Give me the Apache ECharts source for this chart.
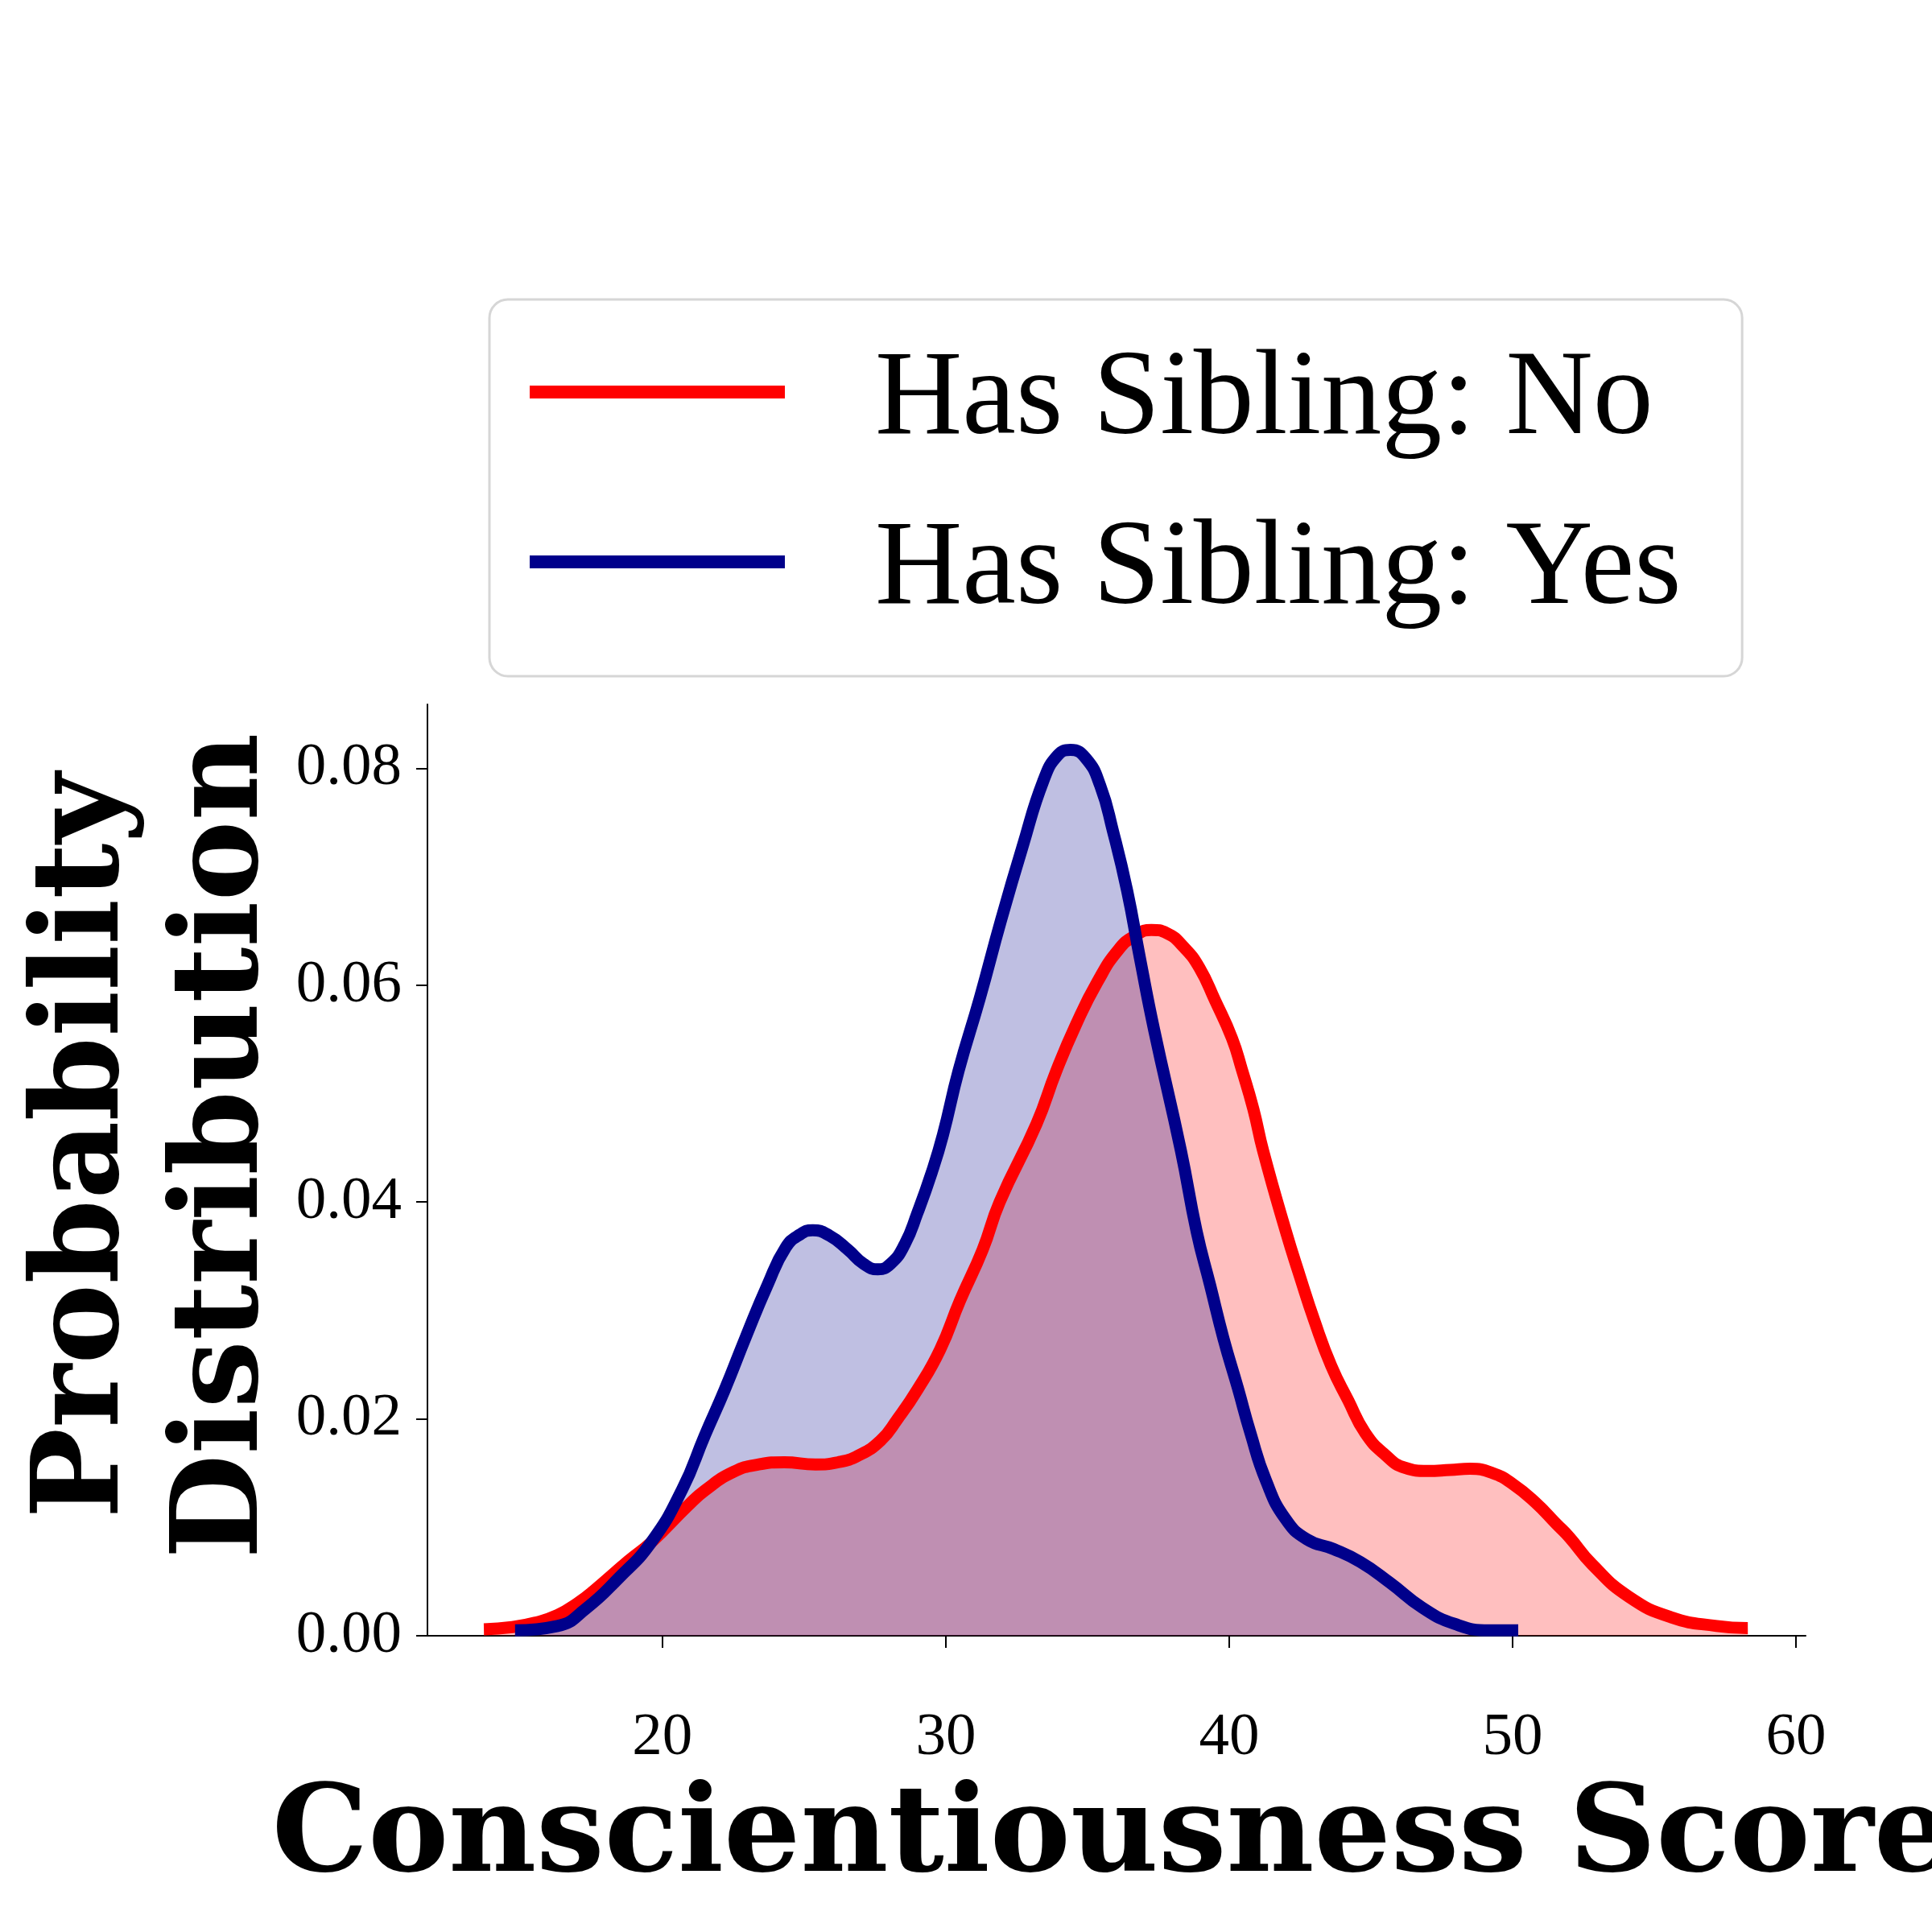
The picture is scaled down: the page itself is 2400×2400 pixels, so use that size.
<!DOCTYPE html>
<html>
<head>
<meta charset="utf-8">
<script src="https://cdn.jsdelivr.net/npm/echarts@6/dist/echarts.min.js"></script>
<style>
  html, body { margin: 0; padding: 0; background: #fff; }
  #main { width: 2400px; height: 2400px; }
</style>
</head>
<body>
<div id="main"></div>
<script>
// KDE curves (score, density)
var noScores = [13.7, 14.7, 15.5, 16.3, 17.0, 17.6, 18.8, 19.6, 20.9, 21.5, 22.5, 23.4, 24.3, 25.4, 26.2, 26.9, 27.7, 28.3, 29.0, 29.8, 30.5, 31.3, 31.9, 33.2, 33.9, 34.6, 35.35, 36.1, 36.7, 37.25, 37.8, 38.4, 38.95, 39.5, 40.1, 40.45, 40.85, 41.2, 42.0, 42.5, 43.0, 43.6, 44.2, 44.8, 45.5, 46.2, 47.0, 47.8, 48.5, 49.3, 50.0, 50.8, 51.55, 52.0, 52.8, 54.1, 55.6, 57.2, 58.3];
var noDensity = [0.0006, 0.0008, 0.0012, 0.0019, 0.0030, 0.0042, 0.0069, 0.0086, 0.0120, 0.0134, 0.0151, 0.0158, 0.0160, 0.0158, 0.0160, 0.0166, 0.0180, 0.0200, 0.0227, 0.0264, 0.0309, 0.0356, 0.0400, 0.0472, 0.0521, 0.0564, 0.0603, 0.0633, 0.0646, 0.0651, 0.0648, 0.0635, 0.0616, 0.0586, 0.0551, 0.0522, 0.0486, 0.0447, 0.0373, 0.0331, 0.0291, 0.0249, 0.0217, 0.0187, 0.0167, 0.0155, 0.0152, 0.0153, 0.0154, 0.0150, 0.0140, 0.0123, 0.0103, 0.0091, 0.0066, 0.0036, 0.0017, 0.0009, 0.0007];

var yesScores = [14.8, 16.3, 17.3, 18.45, 19.6, 20.7, 21.5, 22.2, 22.95, 23.7, 24.35, 24.85, 25.3, 25.9, 26.55, 27.1, 27.6, 28.05, 28.55, 29.0, 29.5, 29.9, 30.45, 31.2, 31.95, 32.7, 33.45, 33.95, 34.4, 34.95, 35.45, 35.9, 36.4, 36.85, 37.35, 38.3, 38.85, 39.33, 39.8, 40.3, 40.75, 41.3, 41.98, 42.74, 43.68, 44.63, 45.67, 46.81, 47.95, 49.18, 50.2];
var yesDensity = [0.0005, 0.0009, 0.0025, 0.0053, 0.0086, 0.0135, 0.0185, 0.0227, 0.0276, 0.0323, 0.0358, 0.0370, 0.0374, 0.0369, 0.0356, 0.0343, 0.0338, 0.0343, 0.0361, 0.0390, 0.0427, 0.0462, 0.0521, 0.0588, 0.0660, 0.0727, 0.0789, 0.0812, 0.0817, 0.0809, 0.0784, 0.0742, 0.0687, 0.0625, 0.0559, 0.0447, 0.0373, 0.0323, 0.0274, 0.0229, 0.0187, 0.0143, 0.0108, 0.0089, 0.0080, 0.0068, 0.0049, 0.0026, 0.0011, 0.0005, 0.0005];

var groupNames = ['Has Sibling: No', 'Has Sibling: Yes'];
var xTicks = [20, 30, 40, 50, 60];
var yTicks = [0, 0.02, 0.04, 0.06, 0.08];

function pairs(xs, ys) {
  return xs.map(function (x, i) { return [x, ys[i]]; });
}

var chart = echarts.init(document.getElementById('main'));

var serifFont = 'Liberation Serif';
var titleFont = 'DejaVu Serif';
var curveSmooth = 0.5;

var option = {
  backgroundColor: '#ffffff',
  animation: false,
  grid: { left: 518, right: 157, top: 875, bottom: 368, containLabel: false, outerBoundsMode: 'none' },
  legend: {
    data: groupNames,
    orient: 'vertical',
    left: 608,
    top: 372,
    icon: 'rect',
    itemWidth: 317,
    itemHeight: 16,
    itemGap: 61,
    padding: [52, 73, 55, 50],
    backgroundColor: '#ffffff',
    borderColor: '#d6d6d6',
    borderWidth: 3,
    borderRadius: 23,
    formatter: '{t|{name}}{s| }',
    textStyle: {
      fontFamily: serifFont,
      fontSize: 150,
      color: '#000',
      padding: [0, 0, 0, 107],
      rich: {
        t: { fontFamily: serifFont, fontSize: 150, lineHeight: 150, verticalAlign: 'bottom', color: '#000' },
        s: { fontSize: 10, lineHeight: 174 }
      }
    }
  },
  xAxis: {
    type: 'value',
    min: 11.34,
    max: 60.34,
    name: 'Conscientiousness Score',
    nameLocation: 'middle',
    nameGap: 178,
    nameTextStyle: {
      fontFamily: titleFont,
      fontWeight: 'bold',
      fontSize: 150,
      lineHeight: 150,
      color: '#000'
    },
    splitLine: { show: false },
    axisLine: { onZero: false, lineStyle: { color: '#000', width: 2 } },
    axisTick: { length: 15, lineStyle: { color: '#000', width: 2 }, customValues: xTicks },
    axisLabel: {
      customValues: xTicks,
      margin: 90,
      fontFamily: serifFont,
      fontSize: 75,
      lineHeight: 75,
      color: '#000'
    }
  },
  yAxis: {
    type: 'value',
    min: 0,
    max: 0.0859,
    offset: -13,
    name: 'Probability\nDistribution',
    nameLocation: 'middle',
    nameGap: 164,
    nameMoveOverlap: false,
    nameTextStyle: {
      fontFamily: titleFont,
      fontWeight: 'bold',
      fontSize: 150,
      lineHeight: 173,
      color: '#000',
      padding: [0, 0, 0, 60]
    },
    splitLine: { show: false },
    axisLine: { show: true, lineStyle: { color: '#000', width: 2 } },
    axisTick: { show: true, length: 14, lineStyle: { color: '#000', width: 2 }, customValues: yTicks },
    axisLabel: {
      customValues: yTicks,
      margin: 32,
      fontFamily: serifFont,
      fontSize: 75,
      color: '#000',
      formatter: function (v) { return v.toFixed(2); }
    }
  },
  series: [
    {
      name: 'fill-no',
      type: 'line',
      data: pairs(noScores, noDensity),
      smooth: curveSmooth,
      symbol: 'none',
      silent: true,
      z: 2,
      lineStyle: { width: 0 },
      areaStyle: { color: 'rgba(255,0,0,0.25)', opacity: 1 }
    },
    {
      name: 'fill-yes',
      type: 'line',
      data: pairs(yesScores, yesDensity),
      smooth: curveSmooth,
      symbol: 'none',
      silent: true,
      z: 2,
      lineStyle: { width: 0 },
      areaStyle: { color: 'rgba(0,0,139,0.25)', opacity: 1 }
    },
    {
      name: groupNames[0],
      type: 'line',
      data: pairs(noScores, noDensity),
      smooth: curveSmooth,
      symbol: 'none',
      z: 3,
      itemStyle: { color: '#ff0000' },
      lineStyle: { color: '#ff0000', width: 15, cap: 'butt' }
    },
    {
      name: groupNames[1],
      type: 'line',
      data: pairs(yesScores, yesDensity),
      smooth: curveSmooth,
      symbol: 'none',
      z: 3,
      itemStyle: { color: '#00008b' },
      lineStyle: { color: '#00008b', width: 15, cap: 'butt' }
    }
  ]
};

chart.setOption(option);
</script>
</body>
</html>
